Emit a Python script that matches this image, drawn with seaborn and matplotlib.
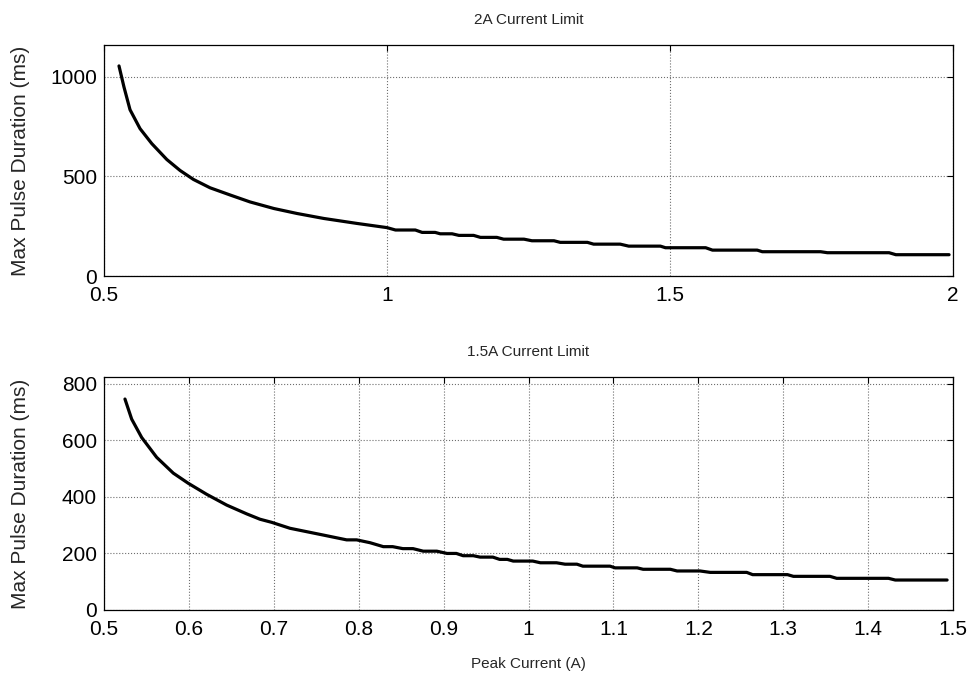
import numpy as np
import pandas as pd
import matplotlib
matplotlib.use("Agg")
import matplotlib.pyplot as plt
from matplotlib.ticker import FuncFormatter
import seaborn as sns

# 2A current limit curve
current_2a = [0.5265, 0.5353, 0.5460, 0.5637, 0.5844, 0.6110, 0.6344, 0.6580, 0.6874,
              0.7237, 0.7580, 0.8001, 0.8410, 0.8883, 0.9470, 1.0000, 1.0150, 1.0500,
              1.0620, 1.0850, 1.0940, 1.1150, 1.1270, 1.1530, 1.1650, 1.1940, 1.2060,
              1.2420, 1.2560, 1.2950, 1.3060, 1.3540, 1.3650, 1.4120, 1.4270, 1.4830,
              1.4920, 1.5630, 1.5750, 1.6540, 1.6630, 1.7660, 1.7780, 1.8870, 1.8990,
              1.9930]
duration_2a = [1055, 949, 835, 740, 665, 585, 530, 485, 443,
               406, 372, 339, 314, 289, 264, 243, 231, 231,
               219, 219, 212, 212, 204, 204, 194, 194, 185,
               185, 177, 177, 169, 169, 160, 160, 150, 150,
               142, 142, 130, 130, 122, 122, 117, 117, 107,
               107]

# 1.5A current limit curve
current_15a = [0.5247, 0.5326, 0.5444, 0.5620, 0.5816, 0.5993, 0.6210, 0.6445, 0.6680,
               0.6837, 0.6975, 0.7190, 0.7583, 0.7858, 0.7976, 0.8133, 0.8290, 0.8400,
               0.8520, 0.8640, 0.8760, 0.8920, 0.9040, 0.9150, 0.9230, 0.9350, 0.9430,
               0.9580, 0.9660, 0.9750, 0.9820, 1.0050, 1.0140, 1.0330, 1.0430, 1.0570,
               1.0640, 1.0960, 1.1020, 1.1280, 1.1350, 1.1670, 1.1750, 1.2020, 1.2140,
               1.2570, 1.2640, 1.3050, 1.3120, 1.3550, 1.3630, 1.4240, 1.4320, 1.4930]
duration_15a = [746, 675, 610, 540, 484, 448, 409, 371, 340,
                321, 310, 289, 265, 248, 248, 238, 224, 224,
                217, 217, 208, 208, 200, 200, 192, 192, 187,
                187, 179, 179, 173, 173, 167, 167, 162, 162,
                155, 155, 149, 149, 144, 144, 138, 138, 133,
                133, 125, 125, 119, 119, 112, 112, 106, 106]

xticks_top = [0.5, 1, 1.5, 2]
yticks_top = [0, 500, 1000]
xticks_bot = [0.5, 0.6, 0.7, 0.8, 0.9, 1.0, 1.1, 1.2, 1.3, 1.4, 1.5]
yticks_bot = [0, 200, 400, 600, 800]

df_top = pd.DataFrame({"current": current_2a, "duration": duration_2a})
df_bot = pd.DataFrame({"current": current_15a, "duration": duration_15a})

sns.set_style("white")
plt.rcParams['font.family'] = ['Liberation Sans', 'DejaVu Sans']
plt.rcParams['font.size'] = 11

fig = plt.figure(figsize=(9.71, 6.75), dpi=100)
ax1 = fig.add_axes([0.1071, 0.5911, 0.8744, 0.3422])
ax2 = fig.add_axes([0.1071, 0.0963, 0.8744, 0.3452])

fmt = FuncFormatter(lambda v, p: "%g" % round(v, 3))


def style_axis(ax, xt, yt, xlim, ylim, title):
    ax.set_xlim(*xlim)
    ax.set_ylim(*ylim)
    ax.set_xticks(xt)
    ax.set_yticks(yt)
    ax.xaxis.set_major_formatter(fmt)
    ax.yaxis.set_major_formatter(fmt)
    ax.grid(True, color="#6e6e6e", linestyle=":", linewidth=0.8)
    ax.tick_params(direction="in", top=True, right=True, length=4, width=0.8,
                   labelsize=15, colors="black")
    ax.tick_params(axis="x", pad=7)
    ax.tick_params(axis="y", pad=5)
    for s in ax.spines.values():
        s.set_color("black")
        s.set_linewidth(0.9)
    ax.set_title(title, fontsize=11, pad=15)
    ax.set_ylabel("Max Pulse Duration (ms)", fontsize=15)
    ax.yaxis.set_label_coords(-0.087, 0.5)


sns.lineplot(data=df_top, x="current", y="duration", ax=ax1, color="black",
             linewidth=2.3, sort=False)
style_axis(ax1, xticks_top, yticks_top, (0.5, 2), (0, 1160), "2A Current Limit")
ax1.set_xlabel("")

sns.lineplot(data=df_bot, x="current", y="duration", ax=ax2, color="black",
             linewidth=2.3, sort=False)
style_axis(ax2, xticks_bot, yticks_bot, (0.5, 1.5), (0, 824), "1.5A Current Limit")
ax2.set_xlabel("Peak Current (A)", fontsize=11)
ax2.xaxis.set_label_coords(0.5, -0.2)

fig.savefig("out.png", dpi=100)
